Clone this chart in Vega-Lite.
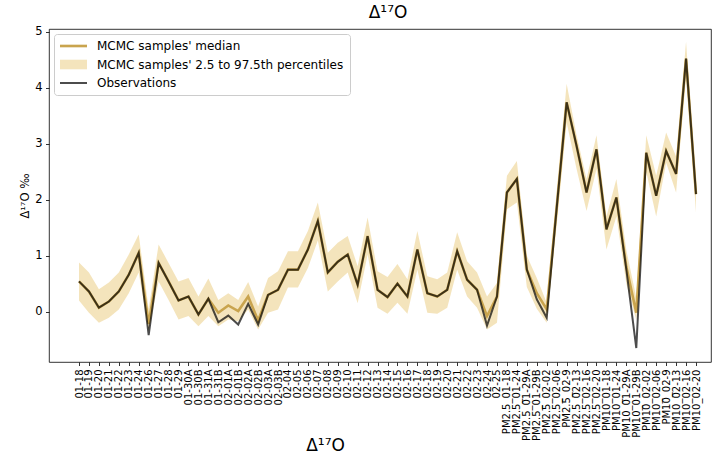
{
  "$schema": "https://vega.github.io/schema/vega-lite/v6.json",
  "autosize": {"type": "none"},
  "padding": {"left": 49, "top": 29, "right": 1, "bottom": 97},
  "width": 662,
  "height": 333,
  "background": "white",
  "title": {"text": "Δ¹⁷O", "fontSize": 17, "fontWeight": "normal", "font": "DejaVu Sans", "color": "black", "anchor": "middle", "offset": 4, "dx": 8},
  "config": {
    "font": "DejaVu Sans",
    "view": {"stroke": "black", "strokeWidth": 0.8},
    "axis": {"domain": false, "grid": false, "tickColor": "black", "tickWidth": 0.8, "tickSize": 3.5, "labelColor": "black", "titleColor": "black", "labelFont": "DejaVu Sans", "titleFont": "DejaVu Sans", "titleFontWeight": "normal"},
    "legend": {
      "title": null, "orient": "top-left", "offset": 5, "padding": 6,
      "fillColor": "white", "strokeColor": "#cccccc", "cornerRadius": 3,
      "labelFontSize": 12, "labelFont": "DejaVu Sans", "labelColor": "black", "labelOffset": 25, "labelLimit": 0,
      "rowPadding": 6.5, "symbolSize": 144
    }
  },
  "data": {"values": [
    {"date": "01-18", "med": 0.54, "lo": 0.20, "hi": 0.88, "obs": 0.54},
    {"date": "01-19", "med": 0.36, "lo": -0.02, "hi": 0.70, "obs": 0.36},
    {"date": "01-20", "med": 0.07, "lo": -0.20, "hi": 0.40, "obs": 0.07},
    {"date": "01-21", "med": 0.18, "lo": -0.11, "hi": 0.52, "obs": 0.18},
    {"date": "01-22", "med": 0.36, "lo": 0.04, "hi": 0.70, "obs": 0.36},
    {"date": "01-23", "med": 0.66, "lo": 0.33, "hi": 1.02, "obs": 0.66},
    {"date": "01-24", "med": 1.05, "lo": 0.70, "hi": 1.38, "obs": 1.05},
    {"date": "01-26", "med": -0.22, "lo": -0.35, "hi": 0.05, "obs": -0.42},
    {"date": "01-27", "med": 0.87, "lo": 0.54, "hi": 1.20, "obs": 0.87},
    {"date": "01-28", "med": 0.54, "lo": 0.21, "hi": 0.87, "obs": 0.54},
    {"date": "01-29", "med": 0.20, "lo": -0.14, "hi": 0.54, "obs": 0.20},
    {"date": "01-30A", "med": 0.27, "lo": -0.08, "hi": 0.60, "obs": 0.27},
    {"date": "01-30B", "med": -0.05, "lo": -0.26, "hi": 0.27, "obs": -0.05},
    {"date": "01-31A", "med": 0.23, "lo": -0.08, "hi": 0.59, "obs": 0.23},
    {"date": "01-31B", "med": -0.02, "lo": -0.26, "hi": 0.21, "obs": -0.19},
    {"date": "02-01A", "med": 0.11, "lo": -0.14, "hi": 0.33, "obs": -0.07},
    {"date": "02-01B", "med": 0.01, "lo": -0.17, "hi": 0.21, "obs": -0.23},
    {"date": "02-02A", "med": 0.27, "lo": 0.04, "hi": 0.53, "obs": 0.14},
    {"date": "02-02B", "med": -0.16, "lo": -0.32, "hi": 0.09, "obs": -0.23},
    {"date": "02-03A", "med": 0.30, "lo": -0.02, "hi": 0.60, "obs": 0.30},
    {"date": "02-03B", "med": 0.39, "lo": 0.04, "hi": 0.72, "obs": 0.39},
    {"date": "02-04", "med": 0.75, "lo": 0.43, "hi": 1.08, "obs": 0.75},
    {"date": "02-05", "med": 0.75, "lo": 0.43, "hi": 1.08, "obs": 0.75},
    {"date": "02-06", "med": 1.11, "lo": 0.78, "hi": 1.44, "obs": 1.11},
    {"date": "02-07", "med": 1.62, "lo": 1.27, "hi": 1.95, "obs": 1.62},
    {"date": "02-08", "med": 0.70, "lo": 0.36, "hi": 1.05, "obs": 0.70},
    {"date": "02-09", "med": 0.89, "lo": 0.54, "hi": 1.23, "obs": 0.89},
    {"date": "02-10", "med": 1.02, "lo": 0.70, "hi": 1.35, "obs": 1.02},
    {"date": "02-11", "med": 0.48, "lo": 0.15, "hi": 0.81, "obs": 0.48},
    {"date": "02-12", "med": 1.35, "lo": 1.02, "hi": 1.68, "obs": 1.35},
    {"date": "02-13", "med": 0.39, "lo": 0.07, "hi": 0.72, "obs": 0.39},
    {"date": "02-14", "med": 0.26, "lo": -0.04, "hi": 0.62, "obs": 0.26},
    {"date": "02-15", "med": 0.50, "lo": 0.16, "hi": 0.85, "obs": 0.50},
    {"date": "02-16", "med": 0.27, "lo": -0.04, "hi": 0.58, "obs": 0.27},
    {"date": "02-17", "med": 1.11, "lo": 0.75, "hi": 1.44, "obs": 1.11},
    {"date": "02-18", "med": 0.33, "lo": -0.02, "hi": 0.63, "obs": 0.33},
    {"date": "02-19", "med": 0.27, "lo": -0.04, "hi": 0.58, "obs": 0.27},
    {"date": "02-20", "med": 0.39, "lo": 0.07, "hi": 0.70, "obs": 0.39},
    {"date": "02-21", "med": 1.08, "lo": 0.75, "hi": 1.42, "obs": 1.08},
    {"date": "02-22", "med": 0.57, "lo": 0.27, "hi": 0.90, "obs": 0.57},
    {"date": "02-23", "med": 0.39, "lo": 0.07, "hi": 0.70, "obs": 0.39},
    {"date": "02-24", "med": -0.08, "lo": -0.32, "hi": 0.27, "obs": -0.25},
    {"date": "02-25", "med": 0.27, "lo": -0.20, "hi": 0.51, "obs": 0.27},
    {"date": "PM2.5_01-18", "med": 2.13, "lo": 1.83, "hi": 2.43, "obs": 2.13},
    {"date": "PM2.5_01-24", "med": 2.37, "lo": 1.95, "hi": 2.69, "obs": 2.37},
    {"date": "PM2.5_01-29A", "med": 0.75, "lo": 0.44, "hi": 1.00, "obs": 0.75},
    {"date": "PM2.5_01-29B", "med": 0.33, "lo": 0.05, "hi": 0.60, "obs": 0.22},
    {"date": "PM2.5_02-02", "med": 0.04, "lo": -0.20, "hi": 0.16, "obs": -0.11},
    {"date": "PM2.5_02-06", "med": 1.85, "lo": 1.55, "hi": 2.15, "obs": 1.85},
    {"date": "PM2.5_02-9", "med": 3.74, "lo": 3.38, "hi": 4.07, "obs": 3.74},
    {"date": "PM2.5_02-13", "med": 2.96, "lo": 2.55, "hi": 3.15, "obs": 2.96},
    {"date": "PM2.5_02-16", "med": 2.13, "lo": 1.80, "hi": 2.37, "obs": 2.13},
    {"date": "PM2.5_02-20", "med": 2.90, "lo": 2.55, "hi": 3.15, "obs": 2.90},
    {"date": "PM10_01-18", "med": 1.47, "lo": 1.11, "hi": 1.70, "obs": 1.47},
    {"date": "PM10_01-24", "med": 2.04, "lo": 1.70, "hi": 2.37, "obs": 2.04},
    {"date": "PM10_01-29A", "med": 0.80, "lo": 0.50, "hi": 1.10, "obs": 0.75},
    {"date": "PM10_01-29B", "med": -0.02, "lo": -0.15, "hi": 0.25, "obs": -0.65},
    {"date": "PM10_02-02", "med": 2.84, "lo": 2.50, "hi": 3.15, "obs": 2.84},
    {"date": "PM10_02-06", "med": 2.07, "lo": 1.70, "hi": 2.43, "obs": 2.07},
    {"date": "PM10_02-9", "med": 2.87, "lo": 2.66, "hi": 3.20, "obs": 2.87},
    {"date": "PM10_02-13", "med": 2.46, "lo": 2.13, "hi": 2.77, "obs": 2.46},
    {"date": "PM10_02-16", "med": 4.52, "lo": 4.22, "hi": 4.82, "obs": 4.52},
    {"date": "PM10_02-20", "med": 2.10, "lo": 1.77, "hi": 2.30, "obs": 2.10}
  ]},
  "encoding": {
    "x": {
      "field": "date", "type": "ordinal", "sort": null,
      "scale": {"type": "point", "padding": 0, "range": [30, 647]},
      "axis": {"labelAngle": 270, "labelFontSize": 10, "labelPadding": 3.5, "labelOverlap": false, "labelBound": false,
               "title": "Δ¹⁷O", "titleFontSize": 17, "titleX": 276, "titleY": 75, "titleBaseline": "top", "titleAlign": "center", "titleAngle": 0}
    },
    "color": {"type": "nominal",
      "scale": {"domain": ["MCMC samples' median", "MCMC samples' 2.5 to 97.5th percentiles", "Observations"], "range": ["#c9a44e", "#daa520", "#000000"]},
      "legend": {
        "encode": {"symbols": {"update": {
          "shape": {"signal": "datum.index == 1 ? 'M-1,-0.8H3.5V0.8H-1Z' : (datum.index == 2 ? 'M-1,-0.17H3.5V0.17H-1Z' : 'M-1,-0.22H3.5V0.22H-1Z')"},
          "fill": {"scale": "color", "field": "value"},
          "stroke": {"value": "transparent"},
          "strokeWidth": {"value": 0},
          "fillOpacity": {"value": 1},
          "opacity": {"signal": "datum.index == 1 ? 0.3 : (datum.index == 2 ? 0.7 : 1)"}
        }}}
      }
    }
  },
  "layer": [
    {
      "mark": {"type": "area", "opacity": 0.3},
      "encoding": {
        "y": {"field": "lo", "type": "quantitative",
              "scale": {"domain": [-0.9, 5.05], "nice": false, "zero": false},
              "axis": {"values": [0, 1, 2, 3, 4, 5], "format": "d", "labelFontSize": 11.5, "labelPadding": 3.5, "title": "Δ¹⁷O ‰", "titleFontSize": 11.5, "titlePadding": 4}},
        "y2": {"field": "hi"},
        "color": {"datum": "MCMC samples' 2.5 to 97.5th percentiles"}
      }
    },
    {
      "mark": {"type": "line", "strokeWidth": 2.6},
      "encoding": {
        "y": {"field": "med", "type": "quantitative"},
        "color": {"datum": "MCMC samples' median"}
      }
    },
    {
      "mark": {"type": "line", "strokeWidth": 2, "opacity": 0.7},
      "encoding": {
        "y": {"field": "obs", "type": "quantitative"},
        "color": {"datum": "Observations"}
      }
    }
  ]
}
